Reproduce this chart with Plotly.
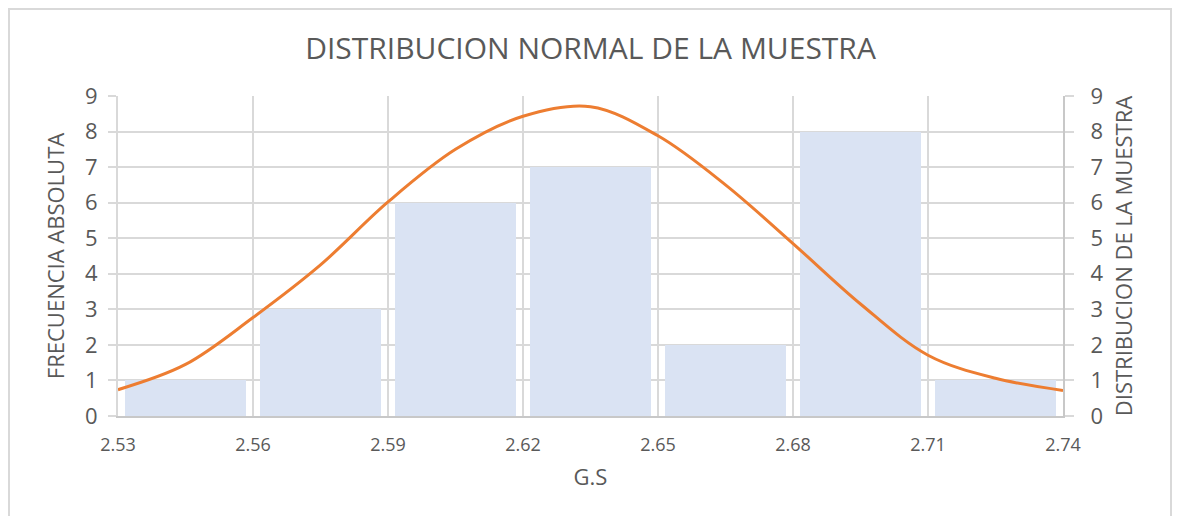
import plotly.graph_objects as go

# Class limits of G.S and absolute frequency per class
bin_edges = [2.53, 2.56, 2.59, 2.62, 2.65, 2.68, 2.71, 2.74]
frequencies = [1, 3, 6, 7, 2, 8, 1]

# Normal distribution curve of the sample (secondary axis)
curve_x = [2.530, 2.545, 2.560, 2.575, 2.590, 2.605, 2.620, 2.635,
           2.650, 2.665, 2.680, 2.695, 2.710, 2.725, 2.740]
curve_y = [0.74, 1.45, 2.77, 4.25, 6.02, 7.50, 8.43, 8.70,
           7.88, 6.50, 4.85, 3.15, 1.71, 1.06, 0.72]

tick_labels = ["2.53", "2.56", "2.59", "2.62", "2.65", "2.68", "2.71", "2.74"]

FONT = "Open Sans"
TXT = "#595959"
GRID = "#d9d9d9"

bin_centers = [(a + b) / 2 for a, b in zip(bin_edges[:-1], bin_edges[1:])]
bin_widths = [(b - a) * 0.9 for a, b in zip(bin_edges[:-1], bin_edges[1:])]

fig = go.Figure()
fig.add_trace(go.Bar(
    x=bin_centers, y=frequencies, width=bin_widths,
    marker=dict(color="#dae3f3", line=dict(width=0)),
    yaxis="y", showlegend=False,
))
fig.add_trace(go.Scatter(
    x=curve_x, y=curve_y, mode="lines",
    line=dict(color="#ed7d31", width=3, shape="spline", smoothing=1.0),
    yaxis="y2", showlegend=False,
))

fig.update_layout(
    width=1181, height=516,
    margin=dict(l=118, r=118, t=96, b=100),
    paper_bgcolor="white", plot_bgcolor="white",
    title=dict(text="DISTRIBUCION NORMAL DE LA MUESTRA", x=0.5, xanchor="center",
               y=1 - 48 / 516, yanchor="middle",
               font=dict(family=FONT, size=30, color=TXT)),
    xaxis=dict(
        range=[bin_edges[0], bin_edges[-1]],
        tickmode="array", tickvals=bin_edges, ticktext=tick_labels,
        showgrid=True, gridcolor=GRID, gridwidth=2,
        showline=True, linecolor="#c8c8c8", linewidth=2,
        ticks="", zeroline=False, ticklabelstandoff=11,
        tickfont=dict(family=FONT, size=18, color=TXT),
        title=dict(text="G.S", font=dict(family=FONT, size=22, color=TXT), standoff=15),
    ),
    yaxis=dict(
        range=[0, 9], dtick=1, tick0=0,
        showgrid=True, gridcolor=GRID, gridwidth=2,
        showline=True, linecolor=GRID, linewidth=2,
        ticks="outside", ticklen=8, tickcolor=GRID, tickwidth=2,
        zeroline=False, ticklabelstandoff=6,
        tickfont=dict(family=FONT, size=22, color=TXT),
        title=dict(text="FRECUENCIA ABSOLUTA", font=dict(family=FONT, size=22, color=TXT),
                   standoff=14),
    ),
    yaxis2=dict(
        range=[0, 9], dtick=1, tick0=0, overlaying="y", side="right",
        showgrid=False,
        showline=True, linecolor="#c8c8c8", linewidth=2,
        ticks="outside", ticklen=9, tickcolor=GRID, tickwidth=2,
        zeroline=False, ticklabelstandoff=12,
        tickfont=dict(family=FONT, size=22, color=TXT),
        title=dict(text="DISTRIBUCION DE LA MUESTRA", font=dict(family=FONT, size=22, color=TXT),
                   standoff=14),
    ),
    bargap=0,
)

# Light chart-area frame
fig.add_shape(type="rect", xref="paper", yref="paper",
              x0=(9 - 118) / 945, x1=(1171 - 118) / 945,
              y0=(416 - 530) / 320, y1=(416 - 9) / 320,
              line=dict(color=GRID, width=2), fillcolor="rgba(0,0,0,0)", layer="below")

fig.write_html("out.html")
